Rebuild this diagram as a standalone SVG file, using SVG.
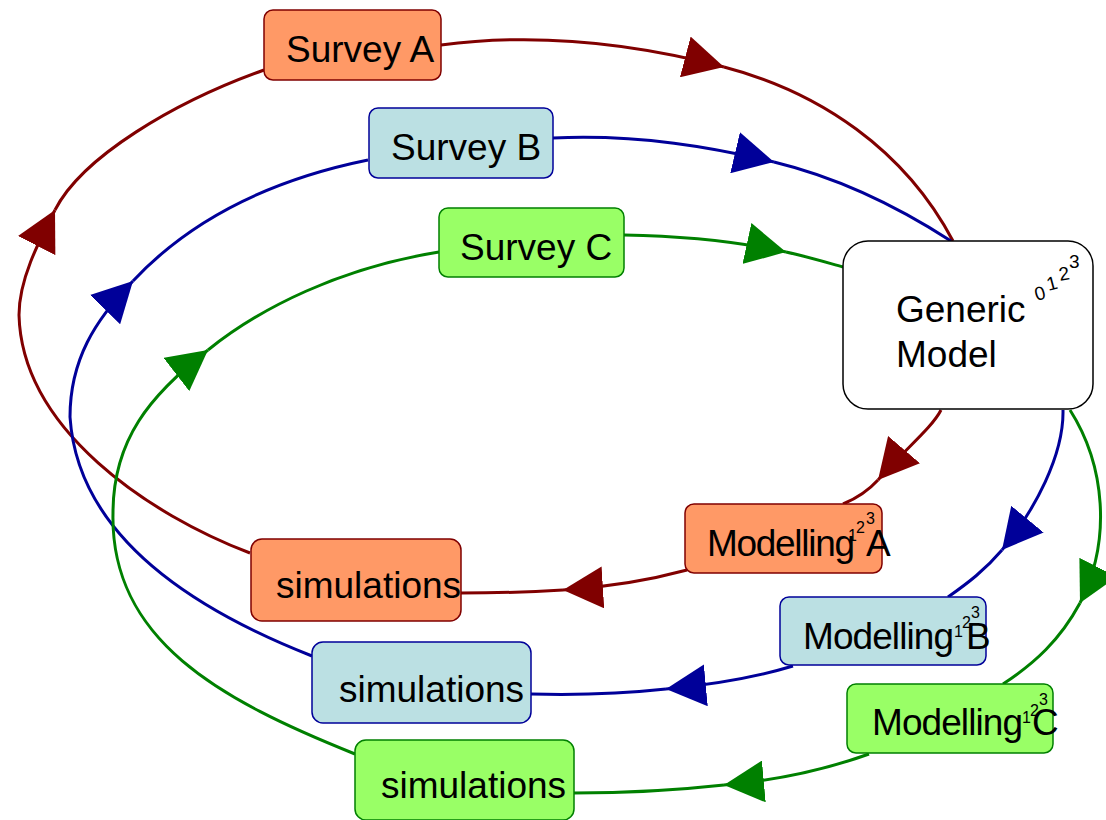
<svg xmlns="http://www.w3.org/2000/svg" width="1106" height="820" viewBox="0 0 1106 820">
<style>
text{font-family:"Liberation Sans",Arial,sans-serif;fill:#000}
.lbl{font-size:37px}
.sup{font-size:16px}
.gsup{font-size:19px}
.edge path{fill:none;stroke-width:3}
.red path{stroke:#800000}
.blue path{stroke:#000099}
.green path{stroke:#008000}
.red path.a{marker-end:url(#ar-red)}
.blue path.a{marker-end:url(#ar-blue)}
.green path.a{marker-end:url(#ar-green)}
.na rect{fill:#FF9966;stroke:#800000;stroke-width:1.5}
.nb rect{fill:#BBE0E3;stroke:#000099;stroke-width:1.5}
.nc rect{fill:#99FF66;stroke:#008000;stroke-width:1.5}
</style>
<defs>
<marker id="ar-red" viewBox="0 0 40 42" refX="40" refY="21" markerWidth="40" markerHeight="42" markerUnits="userSpaceOnUse" orient="auto"><path d="M0,0L40,21L0,42z" fill="#800000"/></marker>
<marker id="ar-blue" viewBox="0 0 40 42" refX="40" refY="21" markerWidth="40" markerHeight="42" markerUnits="userSpaceOnUse" orient="auto"><path d="M0,0L40,21L0,42z" fill="#000099"/></marker>
<marker id="ar-green" viewBox="0 0 40 42" refX="40" refY="21" markerWidth="40" markerHeight="42" markerUnits="userSpaceOnUse" orient="auto"><path d="M0,0L40,21L0,42z" fill="#008000"/></marker>
</defs>
<rect width="1106" height="820" fill="#fff"/>
<g id="connectors">
<g class="edge red">
<path class="a" d="M441,45 C540,32 640,45 724,67"/><path d="M724,67 C820,92 905,150 953,241"/>
<path class="a" d="M941,410 C932,428 902,452 878,480"/><path d="M878,480 C868,491 855,499 843,504"/>
<path class="a" d="M687,570 C650,580 610,587 563,590"/><path d="M563,590 C530,592 495,593 461,593"/>
<path class="a" d="M250,553 C150,515 22,430 19,315 C19,280 38,243 55,210"/><path d="M55,210 C82,157 174,102 264,70"/>
</g>
<g class="edge blue">
<path class="a" d="M553,138 C640,134 715,148 774,162"/><path d="M774,162 C840,178 900,208 951,241"/>
<path class="a" d="M1063,410 C1064,455 1035,510 1002,550"/><path d="M1002,550 C985,570 968,583 948,597"/>
<path class="a" d="M793,666 C760,676 720,684 666,689"/><path d="M666,689 C620,694 570,695 531,694"/>
<path class="a" d="M312,656 C200,612 78,540 70,417 C70,360 95,320 133,281"/><path d="M133,281 C190,220 270,180 368,160"/>
</g>
<g class="edge green">
<path class="a" d="M624,235 C680,236 740,242 786,252"/><path d="M786,252 C805,256 825,262 843,267"/>
<path class="a" d="M1070,410 C1105,465 1112,540 1080,603"/><path d="M1080,603 C1060,640 1035,663 1003,684"/>
<path class="a" d="M869,754 C830,768 780,780 724,785"/><path d="M724,785 C670,791 620,793 574,793"/>
<path class="a" d="M355,754 C220,700 110,640 113,513 C113,440 150,395 208,350"/><path d="M208,350 C260,308 340,268 439,252"/>
</g>
</g>
<g id="surveyA" class="na"><rect x="264" y="10" width="177" height="70" rx="9"/><text class="lbl" x="286" y="62">Survey A</text></g>
<g id="surveyB" class="nb"><rect x="369" y="108" width="184" height="70" rx="9"/><text class="lbl" x="391" y="160">Survey B</text></g>
<g id="surveyC" class="nc"><rect x="439" y="208" width="185" height="69" rx="9"/><text class="lbl" x="460" y="260">Survey C</text></g>
<g id="generic"><rect x="843" y="241" width="250" height="168" rx="25" fill="#fff" stroke="#000" stroke-width="1.5"/>
<text class="lbl" x="896" y="322">Generic</text><text class="lbl" x="896" y="367">Model</text>
<text class="gsup" x="1035" y="300" transform="rotate(-15 1040 295)">0</text>
<text class="gsup" x="1047" y="290" transform="rotate(-15 1052 285)">1</text>
<text class="gsup" x="1059" y="280" transform="rotate(-10 1065 275)">2</text>
<text class="gsup" x="1069" y="268">3</text></g>
<g id="modA" class="na"><rect x="685" y="504" width="197" height="69" rx="9"/><text class="lbl" x="707" y="556" textLength="148" lengthAdjust="spacing">Modelling</text>
<text class="sup" x="848" y="541" font-size="13">1</text><text class="sup" x="856" y="533">2</text><text class="sup" x="866" y="524">3</text><text class="lbl" x="866" y="556">A</text></g>
<g id="modB" class="nb"><rect x="780" y="597" width="206" height="68" rx="9"/><text class="lbl" x="803" y="649" textLength="151" lengthAdjust="spacing">Modelling</text>
<text class="sup" x="954" y="637" font-size="13">1</text><text class="sup" x="962" y="628">2</text><text class="sup" x="971" y="618">3</text><text class="lbl" x="966" y="649">B</text></g>
<g id="modC" class="nc"><rect x="847" y="684" width="206" height="69" rx="9"/><text class="lbl" x="872" y="735" textLength="151" lengthAdjust="spacing">Modelling</text>
<text class="sup" x="1022" y="723" font-size="13">1</text><text class="sup" x="1030" y="716">2</text><text class="sup" x="1039" y="705">3</text><text class="lbl" x="1032" y="735">C</text></g>
<g id="simA" class="na"><rect x="251" y="539" width="210" height="82" rx="11"/><text class="lbl" x="276" y="598">simulations</text></g>
<g id="simB" class="nb"><rect x="312" y="642" width="219" height="81" rx="11"/><text class="lbl" x="339" y="702">simulations</text></g>
<g id="simC" class="nc"><rect x="355" y="740" width="219" height="80" rx="11"/><text class="lbl" x="381" y="798">simulations</text></g>
</svg>
